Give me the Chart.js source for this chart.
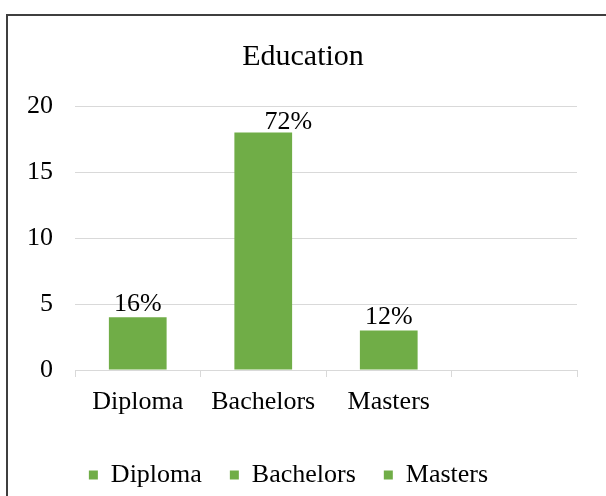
<!DOCTYPE html>
<html>
<head>
<meta charset="utf-8">
<title>Education</title>
<script src="https://cdn.jsdelivr.net/npm/chart.js@4/dist/chart.umd.min.js"></script>
<style>
  html, body { margin: 0; padding: 0; background: #fff; overflow: hidden; }
  #frame {
    position: absolute;
    left: 6px;
    top: 14px;
    width: 640px;
    height: 520px;
    border: 2px solid #3f3f3f;
  }
  #chart { position: absolute; left: 0; top: 0; }
</style>
</head>
<body>
<div id="frame"></div>
<canvas id="chart" width="606" height="496"></canvas>
<script>
const CATEGORIES = ['Diploma', 'Bachelors', 'Masters', ''];
const COUNTS = [4, 18, 3, null];
const Y_TICKS = [0, 5, 10, 15, 20];

const GREEN = '#70ad47';
const GRID = '#d9d9d9';
const FONT = '"Liberation Serif", "Times New Roman", serif';

// the Bachelors label sits a little right of its bar
const LABEL_NUDGE = [{ dx: 0, dy: 6 }, { dx: 25, dy: 3 }, { dx: 0, dy: 6 }];

// percentage of the total, written above each bar
const percentLabels = {
  id: 'percentLabels',
  afterDatasetsDraw(chart) {
    const values = chart.data.datasets[0].data;
    const total = values.reduce((sum, v) => sum + (v || 0), 0);
    const meta = chart.getDatasetMeta(0);
    const ctx = chart.ctx;
    ctx.save();
    ctx.font = '26px ' + FONT;
    ctx.fillStyle = '#000';
    ctx.textAlign = 'center';
    ctx.textBaseline = 'alphabetic';
    meta.data.forEach((bar, i) => {
      if (values[i] == null) return;
      const pct = Math.round((values[i] / total) * 100);
      const nudge = LABEL_NUDGE[i] || { dx: 0, dy: 6 };
      ctx.fillText(pct + '%', bar.x + nudge.dx, bar.y - nudge.dy);
    });
    ctx.restore();
  },
};

// centre the title across the whole canvas, not just the padded area
const wideTitle = {
  id: 'wideTitle',
  afterLayout(chart) {
    if (chart.titleBlock) {
      chart.titleBlock.left = 0;
      chart.titleBlock.right = chart.width;
    }
  },
};

new Chart(document.getElementById('chart'), {
  type: 'bar',
  data: {
    labels: CATEGORIES,
    datasets: [{
      data: COUNTS,
      backgroundColor: GREEN,
      borderWidth: 0,
      barPercentage: 1,
      categoryPercentage: 0.46,
    }],
  },
  plugins: [percentLabels, wideTitle],
  options: {
    responsive: false,
    animation: false,
    layout: {
      padding: { left: 0, right: 29, top: 0, bottom: -2 },
    },
    plugins: {
      title: {
        display: true,
        text: 'Education',
        color: '#000',
        font: { family: FONT, size: 30, weight: 'normal' },
        padding: { top: 39, bottom: 31 },
      },
      legend: {
        position: 'bottom',
        labels: {
          color: '#000',
          font: { family: FONT, size: 26, lineHeight: 1 },
          boxWidth: 9,
          boxHeight: 9,
          padding: 28,
          generateLabels: (chart) => CATEGORIES
            .filter((name) => name !== '')
            .map((name) => ({
              text: name,
              fillStyle: GREEN,
              strokeStyle: GREEN,
              lineWidth: 0,
              hidden: false,
              datasetIndex: 0,
            })),
        },
        onClick: () => {},
      },
      tooltip: { enabled: false },
    },
    scales: {
      x: {
        grid: {
          display: true,
          drawOnChartArea: false,
          drawTicks: true,
          tickLength: 7,
          color: GRID,
          offset: true,
        },
        border: { display: true, color: GRID },
        ticks: {
          color: '#000',
          font: { family: FONT, size: 26 },
          padding: 10,
          maxRotation: 0,
        },
        afterFit: (scale) => { scale.height = 64; },
      },
      y: {
        min: 0,
        max: 20,
        afterBuildTicks: (scale) => {
          scale.ticks = Y_TICKS.map((v) => ({ value: v }));
        },
        grid: { color: GRID, drawTicks: false },
        border: { display: false },
        ticks: {
          color: '#000',
          font: { family: FONT, size: 26 },
          padding: 22,
        },
        afterFit: (scale) => { scale.width = 75; },
      },
    },
  },
});
</script>
</body>
</html>
